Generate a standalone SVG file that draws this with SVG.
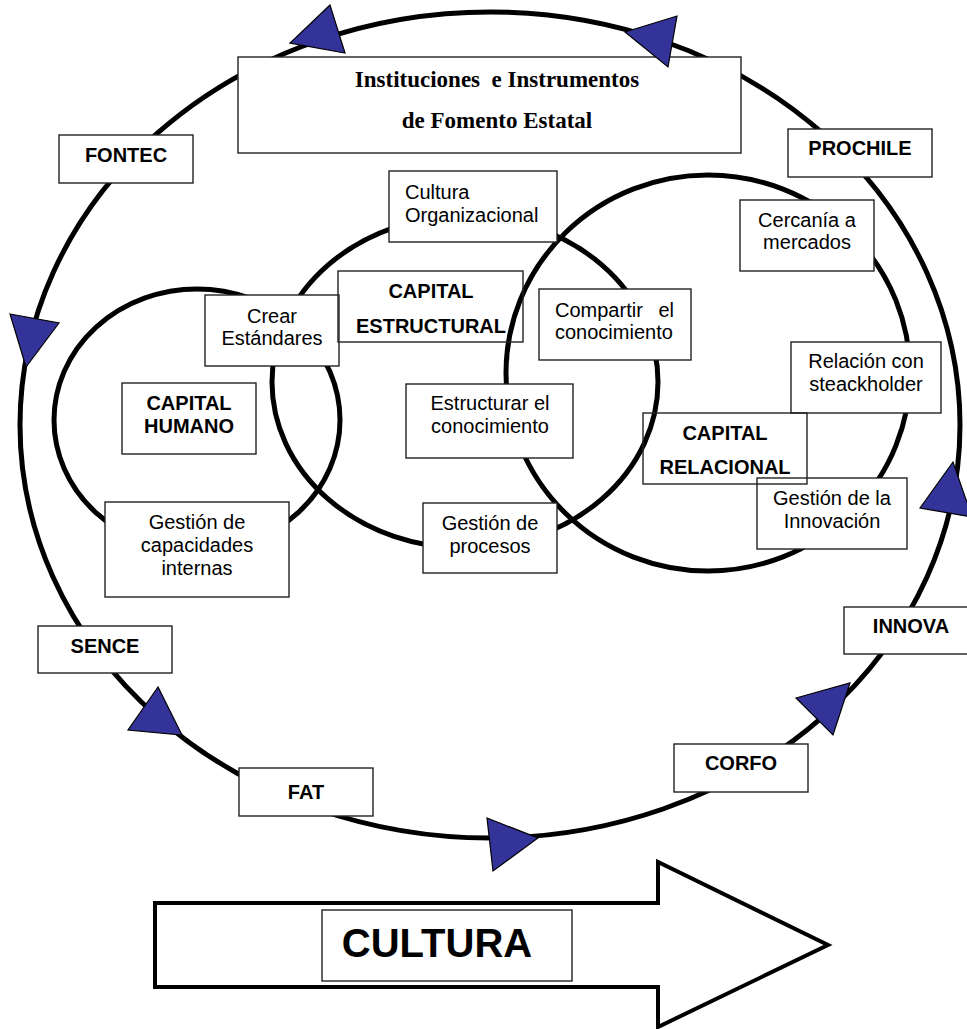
<svg xmlns="http://www.w3.org/2000/svg" width="967" height="1029" viewBox="0 0 967 1029">
<style>
.ring{fill:none;stroke:#000;stroke-width:5}
.box{fill:#fff;stroke:#222;stroke-width:1.4}
.clear{fill:none;stroke:#222;stroke-width:1.4}
.t{font-family:"Liberation Sans",Arial,sans-serif;font-size:20px;fill:#000;text-anchor:middle}
.b{font-family:"Liberation Sans",Arial,sans-serif;font-size:20px;font-weight:bold;fill:#000;text-anchor:middle}
.tri{fill:#333399;stroke:#000;stroke-width:1.2;stroke-linejoin:miter}
</style>
<rect width="967" height="1029" fill="#fff"/>
<g id="connectors">
<ellipse class="ring" cx="490" cy="425" rx="470" ry="413"/>
<ellipse class="ring" cx="197" cy="420" rx="143" ry="131"/>
<ellipse class="ring" cx="465" cy="382" rx="193" ry="166"/>
<ellipse class="ring" cx="708" cy="373" rx="202" ry="198"/>
</g>
<g id="title">
<rect class="box" x="238" y="57" width="503" height="96"/>
<text x="497" y="87" xml:space="preserve" style="font-family:'Liberation Serif','Times New Roman',serif;font-size:23px;font-weight:bold;text-anchor:middle">Instituciones  e Instrumentos</text>
<text x="497" y="128" style="font-family:'Liberation Serif','Times New Roman',serif;font-size:23px;font-weight:bold;text-anchor:middle">de Fomento Estatal</text>
</g>
<g id="fontec"><rect class="box" x="59" y="135" width="134" height="48"/><text class="b" x="126" y="162">FONTEC</text></g>
<g id="prochile"><rect class="box" x="788" y="129" width="144" height="48"/><text class="b" x="860" y="155">PROCHILE</text></g>
<g id="sence"><rect class="box" x="38" y="626" width="134" height="47"/><text class="b" x="105" y="653">SENCE</text></g>
<g id="fat"><rect class="box" x="239" y="768" width="134" height="48"/><text class="b" x="306" y="799">FAT</text></g>
<g id="corfo"><rect class="box" x="674" y="744" width="134" height="48"/><text class="b" x="741" y="770">CORFO</text></g>
<g id="innova"><rect class="box" x="844" y="607" width="134" height="47"/><text class="b" x="911" y="633">INNOVA</text></g>
<g id="cultura-org"><rect class="box" x="389" y="171" width="168" height="71"/><text class="t" x="405" y="199" style="text-anchor:start">Cultura</text><text class="t" x="405" y="222" style="text-anchor:start">Organizacional</text></g>
<g id="cercania"><rect class="box" x="740" y="200" width="134" height="71"/><text class="t" x="807" y="227">Cercanía a</text><text class="t" x="807" y="249">mercados</text></g>
<g id="crear"><rect class="box" x="205" y="295" width="134" height="71"/><text class="t" x="272" y="323">Crear</text><text class="t" x="272" y="345">Estándares</text></g>
<g id="compartir"><rect class="box" x="539" y="289" width="152" height="71"/><text class="t" y="317"><tspan x="555" style="text-anchor:start">Compartir</tspan><tspan x="674" style="text-anchor:end"> el</tspan></text><text class="t" x="555" y="339" style="text-anchor:start">conocimiento</text></g>
<g id="relacion"><rect class="box" x="791" y="342" width="150" height="71"/><text class="t" x="866" y="368">Relación con</text><text class="t" x="866" y="391">steackholder</text></g>
<g id="capital-humano"><rect class="box" x="122" y="383" width="134" height="71"/><text class="b" x="189" y="410">CAPITAL</text><text class="b" x="189" y="433">HUMANO</text></g>
<g id="estructurar"><rect class="box" x="406" y="384" width="167" height="74"/><text class="t" x="490" y="410">Estructurar el</text><text class="t" x="490" y="433">conocimiento</text></g>
<g id="gestion-innovacion"><rect class="box" x="757" y="478" width="150" height="71"/><text class="t" x="832" y="505">Gestión de la</text><text class="t" x="832" y="528">Innovación</text></g>
<g id="capital-estructural"><rect class="clear" x="338" y="271" width="185" height="71"/><text class="b" x="431" y="298">CAPITAL</text><text class="b" x="431" y="333">ESTRUCTURAL</text></g>
<g id="capital-relacional"><rect class="clear" x="643" y="413" width="164" height="71"/><text class="b" x="725" y="440">CAPITAL</text><text class="b" x="725" y="474">RELACIONAL</text></g>
<g id="gestion-capacidades"><rect class="box" x="105" y="502" width="184" height="95"/><text class="t" x="197" y="529">Gestión de</text><text class="t" x="197" y="552">capacidades</text><text class="t" x="197" y="575">internas</text></g>
<g id="gestion-procesos"><rect class="box" x="423" y="503" width="134" height="70"/><text class="t" x="490" y="530">Gestión de</text><text class="t" x="490" y="553">procesos</text></g>
<g id="arrowheads">
<polygon class="tri" points="330,5 290,43 345,53"/>
<polygon class="tri" points="625,32 677,16 668,67"/>
<polygon class="tri" points="10,314 59,323 26,367"/>
<polygon class="tri" points="158,687 128,730 182,735"/>
<polygon class="tri" points="487,818 538,838 493,871"/>
<polygon class="tri" points="796,698 850,683 833,735"/>
<polygon class="tri" points="953,462 920,508 972,517"/>
</g>
<g id="cultura-arrow">
<polygon points="155,903 658,903 658,862 828,945 658,1027 658,987 155,987" fill="#fff" stroke="#000" stroke-width="4" stroke-linejoin="miter"/>
<rect x="322" y="910" width="250" height="71" fill="#fff" stroke="#222" stroke-width="1.4"/>
<text x="437" y="957" style="font-family:'Liberation Sans',Arial,sans-serif;font-size:40px;font-weight:bold;text-anchor:middle">CULTURA</text>
</g>
</svg>
